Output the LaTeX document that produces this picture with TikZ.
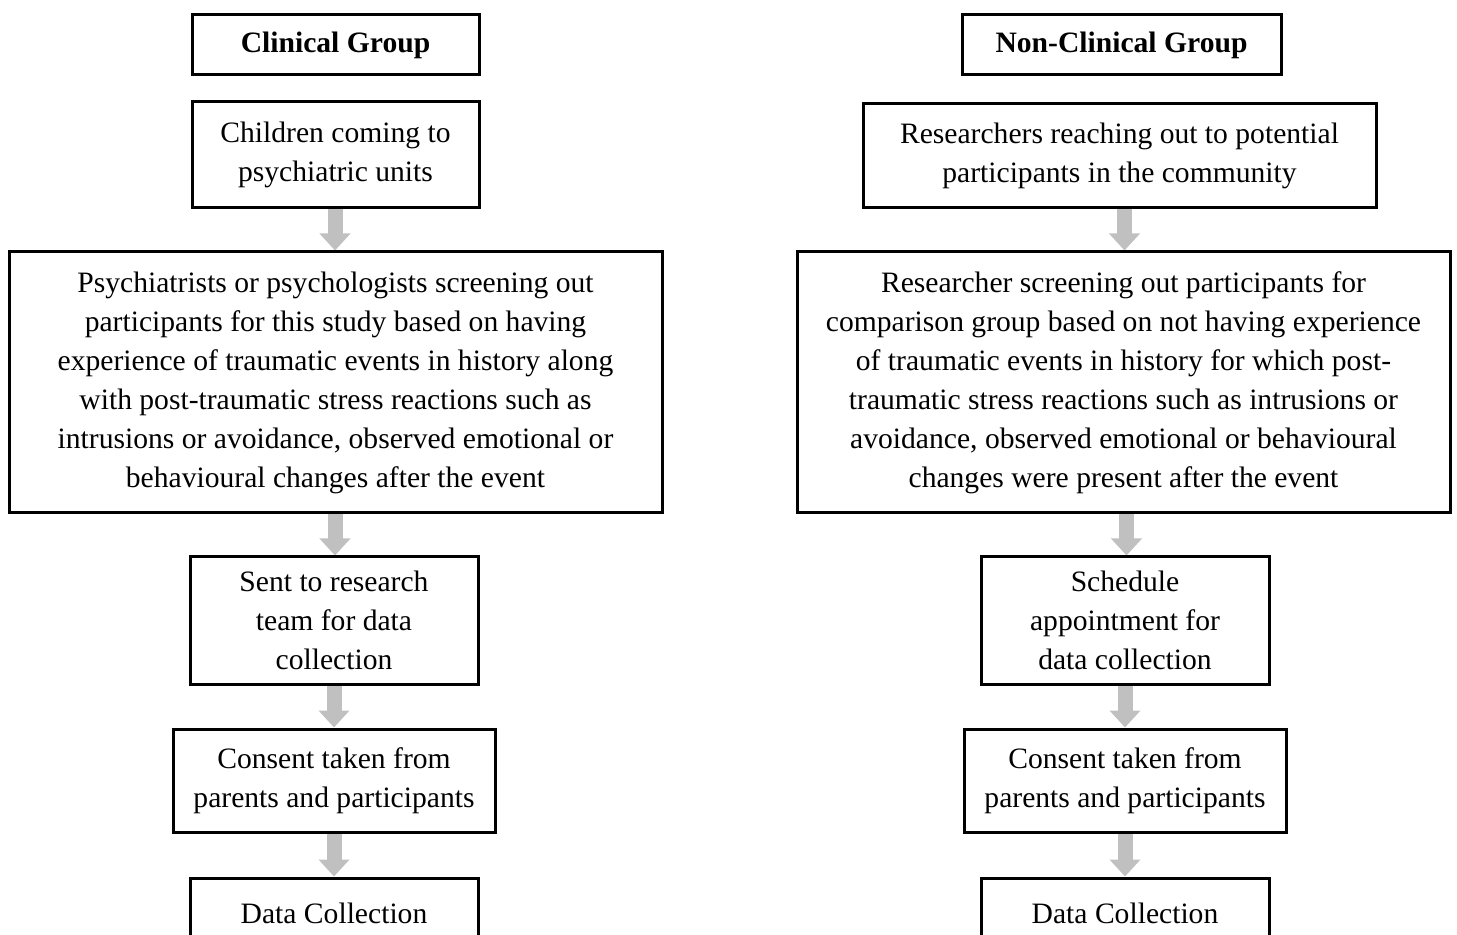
\documentclass[tikz,border=0pt]{standalone}
\usepackage{fontspec}
\setmainfont{Liberation Serif}
\usetikzlibrary{arrows.meta,backgrounds}
\definecolor{arrowgray}{RGB}{192,192,192}
\begin{document}
\begin{tikzpicture}[x=0.5pt,y=-0.5pt,
  box/.style={draw, line width=1.5pt, align=center, inner sep=0pt,
    font=\fontsize{14.8}{19.5}\selectfont},
  flowarrow/.style={draw=arrowgray, line width=7.5pt,
    -{Triangle[width=15pt,length=8.5pt]}, color=arrowgray}]
\path[use as bounding box] (0,0) rectangle (1457,935);
% Left column
\node[box, font=\fontsize{14.8}{19.5}\selectfont\bfseries, minimum width=143.5pt, minimum height=30pt] (g1) at (335.5,45) {Clinical Group};
\node[box, minimum width=143.5pt, minimum height=53pt] (c1) at (335.5,155) {Children coming to\\psychiatric units};
\node[box, minimum width=326.5pt, minimum height=130.5pt] (s1) at (335.5,382.5) {Psychiatrists or psychologists screening out\\participants for this study based on having\\experience of traumatic events in history along\\with post-traumatic stress reactions such as\\intrusions or avoidance, observed emotional or\\behavioural changes after the event};
\node[box, minimum width=144pt, minimum height=63.5pt] (r1) at (334,620.5) {Sent to research\\team for data\\collection};
\node[box, minimum width=161pt, minimum height=51.5pt] (k1) at (334,780.5) {Consent taken from\\parents and participants};
\node[box, minimum width=144pt, minimum height=35pt] (d1) at (334,913) {Data Collection};
% Right column
\node[box, font=\fontsize{14.8}{19.5}\selectfont\bfseries, minimum width=159.5pt, minimum height=30pt] (g2) at (1121.5,45) {Non-Clinical Group};
\node[box, minimum width=256.5pt, minimum height=52pt] (c2) at (1119.5,156) {Researchers reaching out to potential\\participants in the community};
\node[box, minimum width=326.5pt, minimum height=130.5pt] (s2) at (1123.5,382.5) {Researcher screening out participants for\\comparison group based on not having experience\\of traumatic events in history for which post-\\traumatic stress reactions such as intrusions or\\avoidance, observed emotional or behavioural\\changes were present after the event};
\node[box, minimum width=144pt, minimum height=63.5pt] (r2) at (1125,620.5) {Schedule\\appointment for\\data collection};
\node[box, minimum width=161pt, minimum height=51.5pt] (k2) at (1125,780.5) {Consent taken from\\parents and participants};
\node[box, minimum width=144pt, minimum height=35pt] (d2) at (1125,913) {Data Collection};
\begin{scope}[on background layer]
\draw[flowarrow] ([xshift=-0.25pt]c1.south) -- ([xshift=-0.25pt]c1.south |- s1.north);
\draw[flowarrow] ([xshift=-0.25pt]s1.south) -- ([xshift=-0.25pt]s1.south |- r1.north);
\draw[flowarrow] (r1.south) -- (r1.south |- k1.north);
\draw[flowarrow] (k1.south) -- (k1.south |- d1.north);
\draw[flowarrow] ([xshift=2.5pt]c2.south) -- ([xshift=2.5pt]c2.south |- s2.north);
\draw[flowarrow] ([xshift=1.5pt]s2.south) -- ([xshift=1.5pt]s2.south |- r2.north);
\draw[flowarrow] (r2.south) -- (r2.south |- k2.north);
\draw[flowarrow] (k2.south) -- (k2.south |- d2.north);
\end{scope}
\end{tikzpicture}
\end{document}
